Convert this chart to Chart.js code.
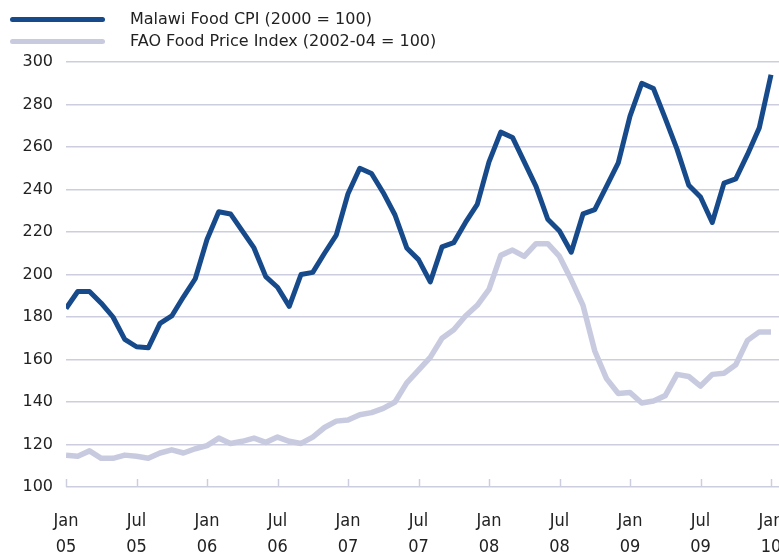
<!DOCTYPE html>
<html>
<head>
<meta charset="utf-8">
<script src="https://cdn.jsdelivr.net/npm/chart.js@4"></script>
<style>
  body { margin: 0; background: #fff; }
  #wrap { position: relative; width: 779px; height: 554px; }
  #legend { position: absolute; left: 0; top: 0; font-family: "DejaVu Sans", sans-serif; font-size: 16px; color: #222; }
  .item { position: absolute; left: 0; height: 22px; width: 500px; }
  .swatch { position: absolute; left: 10px; width: 95px; height: 5px; border-radius: 3px; }
  .label { position: absolute; left: 130px; white-space: nowrap; line-height: 22px; top: 0; }
</style>
</head>
<body>
<div id="wrap">
  <canvas id="chart" width="779" height="554"></canvas>
  <div id="legend"></div>
</div>
<script>
// ---------------- data ----------------
const seriesNames = ["Malawi Food CPI (2000 = 100)", "FAO Food Price Index (2002-04 = 100)"];

// monthly, Jan 05 .. Jan 10
const malawiCpi = [184,192,192,186.5,180,169.5,166,165.5,177,180.5,189.5,198,
                   216.5,229.5,228.5,220.5,212.5,199,194,185,200,201,210,218.5,
                   238,250,247.5,238.5,228,212.5,207,196.5,213,215,224.5,233,
                   253,267,264.5,253,241.5,226,220.5,210.5,228.5,230.5,241.5,252.5,
                   274.5,290,287.5,273.5,259,242,236.5,224.5,243,245,256.5,269,
                   294];
const faoIndex = [115,114.5,117,113.5,113.5,115,114.5,113.5,116,117.5,116,118,
                  119.5,123,120.5,121.5,123,121,123.5,121.5,120.5,123.5,128,131,
                  131.5,134,135,137,140,149,155,161,170,174,180.5,185.5,
                  193,209,211.5,208.5,214.5,214.5,208.5,197.5,185.5,164,151,144,
                  144.5,139.5,140.5,143,153,152,147.5,153,153.5,157.5,169,173,
                  173];

const tickLabels = [["Jan","05"],["Jul","05"],["Jan","06"],["Jul","06"],["Jan","07"],["Jul","07"],
                    ["Jan","08"],["Jul","08"],["Jan","09"],["Jul","09"],["Jan","10"]];

const colors = ["#174a8b", "#c8cbe0"];
const gridColor = "#cdcde0";

// ---------------- helpers ----------------
function toPoints(values) {
    return values.map(function(v, i) { return {x: i, y: v}; });
}

// small tick marks going up from the bottom axis
const upTicks = {
    id: "upTicks",
    afterDraw(chart) {
        const ctx = chart.ctx;
        const xs = chart.scales.x;
        const bottom = chart.chartArea.bottom;
        ctx.save();
        ctx.strokeStyle = gridColor;
        ctx.lineWidth = 1.5;
        xs.ticks.forEach(function(t) {
            const px = Math.round(xs.getPixelForValue(t.value)) + 0.5;
            ctx.beginPath();
            ctx.moveTo(px, bottom);
            ctx.lineTo(px, bottom - 8);
            ctx.stroke();
        });
        ctx.restore();
    }
};

// ---------------- chart ----------------
const chart = new Chart(document.getElementById("chart"), {
    type: "line",
    data: {
        datasets: [
            {label: seriesNames[0], data: toPoints(malawiCpi), borderColor: colors[0], borderWidth: 5},
            {label: seriesNames[1], data: toPoints(faoIndex), borderColor: colors[1], borderWidth: 5.5}
        ]
    },
    options: {
        responsive: false,
        devicePixelRatio: 1,
        animation: false,
        layout: {padding: {top: 62, left: 0, right: 0, bottom: 0}},
        elements: {
            point: {radius: 0},
            line: {tension: 0, borderJoinStyle: "round", borderCapStyle: "butt"}
        },
        plugins: {legend: {display: false}, tooltip: {enabled: false}},
        scales: {
            x: {
                type: "linear",
                min: 0,
                max: 60.68,
                border: {display: false},
                grid: {drawOnChartArea: false, drawTicks: false},
                ticks: {
                    stepSize: 6,
                    includeBounds: false,
                    autoSkip: false,
                    maxRotation: 0,
                    padding: 21,
                    color: "#222",
                    font: {family: "'Liberation Sans Narrow', 'DejaVu Sans Condensed', 'Roboto Condensed', sans-serif", size: 18, lineHeight: 1.45},
                    callback: function(v) { return tickLabels[Math.round(v / 6)]; }
                },
                afterFit: function(s) { s.height = 67; s.paddingLeft = 0; s.paddingRight = 0; }
            },
            y: {
                min: 100,
                max: 300,
                border: {display: false},
                grid: {color: gridColor, lineWidth: 1.5, drawTicks: false},
                ticks: {
                    stepSize: 20,
                    padding: 13,
                    color: "#222",
                    font: {family: "'DejaVu Sans', sans-serif", size: 16}
                },
                afterFit: function(s) { s.width = 66; s.paddingTop = 0; s.paddingBottom = 0; }
            }
        }
    },
    plugins: [upTicks]
});

// html legend from the datasets
const legend = document.getElementById("legend");
chart.data.datasets.forEach(function(ds, i) {
    const item = document.createElement("div");
    item.className = "item";
    item.style.top = (8 + i * 22) + "px";
    const sw = document.createElement("div");
    sw.className = "swatch";
    sw.style.top = "9px";
    sw.style.background = ds.borderColor;
    const lb = document.createElement("span");
    lb.className = "label";
    lb.textContent = ds.label;
    item.appendChild(sw);
    item.appendChild(lb);
    legend.appendChild(item);
});
</script>
</body>
</html>
